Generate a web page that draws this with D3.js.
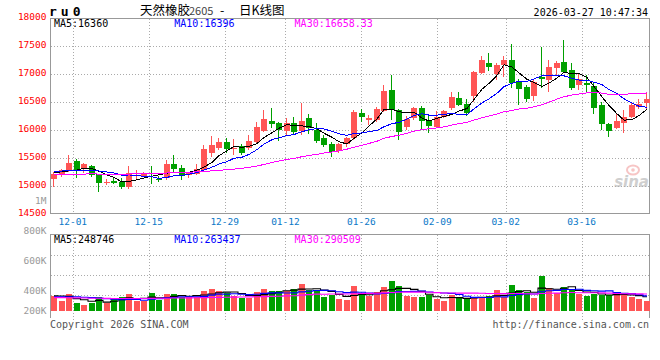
<!DOCTYPE html>
<html><head><meta charset="utf-8">
<script src="https://cdn.jsdelivr.net/npm/d3@7"></script>
<style>html,body{margin:0;padding:0;background:#fff}svg{display:block}</style>
</head><body><svg id="c" width="660" height="360"></svg>
<script>
// ---------------- data ----------------
const dates = ["11-26","11-27","11-28",
"12-01","12-02","12-03","12-04","12-05","12-08","12-09","12-10","12-11","12-12","12-15","12-16","12-17","12-18","12-19","12-22","12-23","12-24","12-25","12-26","12-29","12-30","12-31",
"01-05","01-06","01-07","01-08","01-09","01-12","01-13","01-14","01-15","01-16","01-19","01-20","01-21","01-22","01-23","01-26","01-27","01-28","01-29","01-30",
"02-02","02-03","02-04","02-05","02-06","02-09","02-10","02-11","02-12","02-13","02-24","02-25","02-26","02-27",
"03-02","03-03","03-04","03-05","03-06","03-09","03-10","03-11","03-12","03-13","03-16","03-17","03-18","03-19","03-20","03-23","03-24","03-25","03-26","03-27"];
const open  = [15119,15196,15259,15446,15298,15357,15209,15054,15095,15066,14982,15188,15173,15237,15125,15134,15393,15327,15196,15209,15286,15584,15684,15791,15661,15714,15673,15791,15987,16161,16120,15987,16120,15987,16209,16000,15862,15750,15625,15750,15852,16309,16179,16179,16345,16714,16357,16059,16209,16387,16179,16059,16227,16387,16577,16464,16613,17023,17202,16995,17161,17250,16863,16773,16607,16941,16893,17102,17220,17071,16804,16845,16786,16446,16107,16041,16120,16227,16416,16488];
const high  = [15250,15312,15545,15491,15410,15375,15223,15120,15152,15143,15366,15286,15250,15366,15170,15464,15553,15375,15237,15384,15732,15893,15852,15852,15834,15750,15911,16148,16357,16398,16148,16220,16238,16488,16286,16120,15911,15791,15773,15880,16357,16375,16268,16416,16804,16982,16375,16250,16416,16429,16268,16339,16357,16673,16684,16548,17054,17321,17370,17191,17321,17536,16905,16804,16905,17488,17250,17238,17607,17191,17000,16982,16834,16505,16130,16298,16357,16488,16548,16655];
const low   = [14976,15160,15250,15134,15232,15155,14898,15018,15036,14941,14955,15120,15160,15027,15071,15116,15255,15107,15138,15196,15268,15512,15643,15584,15554,15554,15643,15773,15970,16030,15809,15893,15929,15911,15929,15762,15691,15523,15584,15702,15821,16148,16089,16148,16327,16179,15821,16000,16179,16012,15952,16030,16209,16357,16429,16250,16505,16995,17054,16893,16950,16745,16446,16505,16523,16745,16680,16982,17012,16714,16714,16655,16286,16000,15880,16018,15952,16209,16370,16370];
const close = [15209,15285,15410,15286,15387,15196,15045,15077,15062,14982,15237,15205,15237,15209,15107,15387,15312,15184,15227,15304,15661,15732,15791,15655,15684,15595,15804,16048,16196,16107,16000,16130,15970,16161,16041,15809,15732,15612,15750,15852,16316,16227,16214,16375,16696,16357,15970,16191,16387,16166,16077,16227,16339,16595,16446,16309,17041,17250,17120,17161,17250,16834,16732,16548,16863,16905,17130,17202,17041,16745,16911,16798,16398,16102,15987,16166,16227,16446,16464,16554];
const volume = [261000,174000,296000,144000,104000,134000,249000,144000,214000,249000,
296000,174000,174000,318000,191000,296000,296000,249000,249000,249000,
348000,388000,348000,308000,261000,221000,221000,331000,388000,348000,
348000,348000,388000,475000,360000,360000,238000,273000,214000,191000,
435000,318000,261000,331000,418000,522000,435000,261000,249000,244000,
273000,214000,174000,273000,231000,204000,244000,249000,256000,365000,
249000,452000,365000,331000,231000,609000,405000,318000,418000,360000,
291000,261000,291000,273000,273000,331000,273000,249000,214000,174000];
// moving-average values for the days whose window starts before the first bar
const ma5Start  = [15236,15254,15271,15286];
const ma10Start = [15259,15268,15277,15282,15280,15277,15268,15250,15232];
const ma30Start = [15205,15207,15210,15212,15214,15215,15214,15213,15212,15212,15214,15216,15220,15224,15227,15232,15237,15242,15247,15253,15262,15270,15280,15290,15302,15316,15334,15356,15385];
const volMa5Start  = [266000,262000,255000,215000];
const volMa10Start = [249000,249000,249000,247000,240000,232000,224000,215000,207000];
const volMa30Start = [232000,232000,231000,229000,226000,223000,221000,219000,218000,217000,217000,217000,218000,219000,221000,223000,225000,227000,229000,231000,233000,235000,237000,239000,241000,243000,245000,247000,250000];
const priceTicks = [18000,17500,17000,16500,16000,15500,15000,14500];
const dateTicks = ["12-01","12-15","12-29","01-12","01-26","02-09","03-02","03-16"];
const volTicks = [1000000,800000,600000,400000,200000];
const volTickLabels = ["1M","800K","600K","400K","200K"];
const maLabels = ["MA5:16360","MA10:16396","MA30:16658.33"];
const volMaLabels = ["MA5:248746","MA10:263437","MA30:290509"];

// ---------------- setup ----------------
const RED="#ff5555", GREEN="#00a000", GRID="#aaaaaa", FRAME="#999999";
const MA_COL=["#000000","#0000ff","#ff00ff"];
const MONO="'DejaVu Sans Mono', 'Liberation Mono', monospace";
const svg=d3.select("#c");
const n=dates.length, idx=d3.range(n);
const x=d3.scaleBand().domain(idx).range([50,650]).padding(0);
const px=i=>Math.floor(x(i)+x.bandwidth()/2);
const gridX=d3.scaleLinear().domain([0,n-1]).range([50,650]);
const y=d3.scaleLinear().domain([14500,18000]).range([214,18]);
const VB=311;
const vy=d3.scaleLinear().domain([0,1000000]).range([VB,VB-57.47]);
const vLabelY=d3.scaleLinear().domain([200000,1000000]).range([320.5,200.5]);

function ma(arr,len,start){return idx.map(i=>i>=len-1?d3.mean(arr.slice(i-len+1,i+1)):start[i]);}
const pm=[ma(close,5,ma5Start),ma(close,10,ma10Start),ma(close,30,ma30Start)];
const vm=[ma(volume,5,volMa5Start),ma(volume,10,volMa10Start),ma(volume,30,volMa30Start)];

// ---------------- grid ----------------
const grid=svg.append("g").attr("stroke",GRID).attr("stroke-dasharray","1,2").attr("shape-rendering","crispEdges");
priceTicks.filter(t=>t<18000&&t>14500).forEach(t=>{
  grid.append("line").attr("x1",51).attr("x2",649).attr("y1",Math.round(y(t))+0.5).attr("y2",Math.round(y(t))+0.5);
});
dateTicks.forEach(t=>{
  const gx=Math.round(gridX(dates.indexOf(t)))+0.5;
  grid.append("line").attr("x1",gx).attr("x2",gx).attr("y1",19).attr("y2",213);
  grid.append("line").attr("x1",gx).attr("x2",gx).attr("y1",235).attr("y2",321);
});
[255.5,275.5,295.5].forEach(v=>grid.append("line").attr("x1",51).attr("x2",649).attr("y1",v).attr("y2",v));

// ---------------- frames ----------------
const fr=svg.append("g").attr("stroke",FRAME).attr("fill","none").attr("shape-rendering","crispEdges");
fr.append("path").attr("d","M50.5,213.5V18.5H649.5V213.5H50.5");
fr.append("path").attr("d","M50.5,318V234.5H649.5V318");

// ---------------- volume ----------------
svg.append("g").attr("shape-rendering","crispEdges").selectAll("rect").data(idx).join("rect")
  .attr("x",i=>px(i)-2).attr("width",6)
  .attr("y",i=>vy(volume[i])).attr("height",i=>VB-vy(volume[i]))
  .attr("fill",i=>close[i]>=open[i]?RED:GREEN);
vm.forEach((s,k)=>{
  svg.append("path").datum(idx).attr("fill","none").attr("stroke",MA_COL[k]).attr("stroke-width",1.1)
    .attr("d",d3.line().curve(d3.curveStep).x(i=>px(i)+1).y(i=>vy(s[i])));
});

// ---------------- candles ----------------
const cg=svg.append("g").attr("shape-rendering","crispEdges");
cg.selectAll("line").data(idx).join("line")
  .attr("x1",i=>px(i)+0.5).attr("x2",i=>px(i)+0.5)
  .attr("y1",i=>y(high[i])).attr("y2",i=>y(low[i]))
  .attr("stroke",i=>close[i]>=open[i]?RED:GREEN);
cg.selectAll("rect").data(idx).join("rect")
  .attr("x",i=>px(i)-2).attr("width",6)
  .attr("y",i=>y(Math.max(open[i],close[i])))
  .attr("height",i=>Math.max(1,Math.abs(y(open[i])-y(close[i]))))
  .attr("fill",i=>close[i]>=open[i]?RED:GREEN);
pm.forEach((s,k)=>{
  svg.append("path").datum(idx).attr("fill","none").attr("stroke",MA_COL[k]).attr("stroke-width",1)
    .attr("shape-rendering","crispEdges")
    .attr("d",d3.line().x(i=>px(i)+1).y(i=>y(s[i])));
});

// ---------------- watermark ----------------
const wm=svg.append("g").attr("opacity",0.6);
wm.append("ellipse").attr("cx",633).attr("cy",170).attr("rx",6).attr("ry",4.5).attr("fill","none").attr("stroke","#f2a0a0").attr("stroke-width",2);
wm.append("circle").attr("cx",633).attr("cy",170).attr("r",1.8).attr("fill","#f2a0a0");
wm.append("text").attr("x",649).attr("y",187).attr("text-anchor","end").attr("font-family","'DejaVu Sans', sans-serif")
  .attr("font-size",15).attr("font-weight","bold").attr("font-style","italic").attr("fill","#b0b0b0").text("sina");

// ---------------- texts ----------------
const T=(xx,yy,s,col,size,anchor)=>svg.append("text").attr("x",xx).attr("y",yy).attr("fill",col)
  .attr("font-family",MONO).attr("font-size",size).attr("text-anchor",anchor||"start").text(s);
priceTicks.forEach(t=>T(46.5,y(t)+1.7,String(t),"#ff0000",9.5,"end"));
volTicks.forEach((v,k)=>T(46.5,Math.min(vLabelY(v),311)+3.4,volTickLabels[k],"#999999",9.5,"end"));
dateTicks.forEach(t=>T(gridX(dates.indexOf(t)),224.8,t,"#0a78c8",9.5,"middle"));
maLabels.forEach((s,k)=>T(54+k*120.3,27,s,MA_COL[k],10));
volMaLabels.forEach((s,k)=>T(54+k*120.3,242.6,s,MA_COL[k],10));
T(648,16,"2026-03-27 10:47:34","#000",10,"end");
T(50,328,"Copyright 2026 SINA.COM","#555",10);
T(649,328,"http://finance.sina.com.cn","#555",10,"end");
T(49,16,"ru0","#000",13).attr("font-weight","bold").attr("letter-spacing","4px");
const CJK="'Noto Sans CJK SC', sans-serif";
const tt=svg.append("text").attr("y",15).attr("font-family",CJK).attr("font-size",12.5).attr("fill","#000");
tt.append("tspan").attr("x",140).text("天然橡胶");
tt.append("tspan").attr("x",189).attr("fill","#444").attr("font-size",11).text("2605");
tt.append("tspan").attr("x",220).text("-");
tt.append("tspan").attr("x",239).text("日K线图");
</script></body></html>
